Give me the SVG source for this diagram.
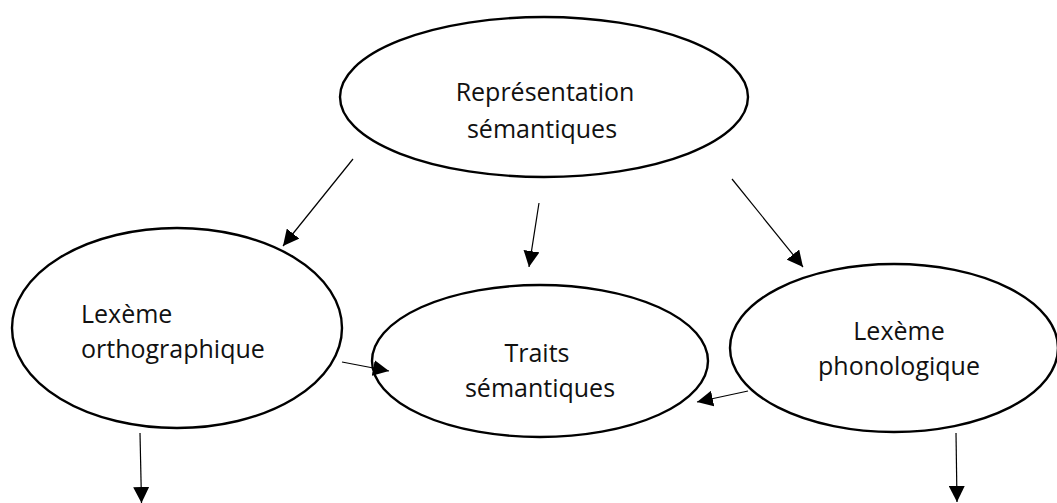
<svg xmlns="http://www.w3.org/2000/svg" width="1057" height="503" viewBox="0 0 1057 503">
<style>
.node ellipse{fill:#fff;stroke:#000;stroke-width:2.4}
.node text{font-family:"Open Sans","Liberation Sans",sans-serif;font-size:25px;fill:#111}
.c{text-anchor:middle}
#connectors line{stroke:#000;stroke-width:1.2}
</style>
<defs>
<marker id="ah" viewBox="0 0 10 10" refX="10" refY="5" markerWidth="16" markerHeight="16" markerUnits="userSpaceOnUse" orient="auto">
<path d="M0,0 L10,5 L0,10 z" fill="#000"/>
</marker>
</defs>
<rect width="1057" height="503" fill="#fff"/>
<g id="n-top" class="node">
<ellipse cx="544" cy="97" rx="204" ry="80"/>
<text class="c" x="545" y="101">Représentation</text>
<text class="c" x="542" y="138">sémantiques</text>
</g>
<g id="n-ortho" class="node">
<ellipse cx="177" cy="328" rx="165" ry="100"/>
<text x="81" y="323">Lexème</text>
<text x="81" y="358">orthographique</text>
</g>
<g id="n-traits" class="node">
<ellipse cx="540" cy="361" rx="168" ry="76"/>
<text class="c" x="537" y="362">Traits</text>
<text class="c" x="540" y="397">sémantiques</text>
</g>
<g id="n-phono" class="node">
<ellipse cx="894" cy="348" rx="164" ry="84"/>
<text class="c" x="899" y="340">Lexème</text>
<text class="c" x="899" y="375">phonologique</text>
</g>
<g id="connectors">
<line x1="353" y1="159" x2="283" y2="246" marker-end="url(#ah)"/>
<line x1="539" y1="203" x2="529" y2="267" marker-end="url(#ah)"/>
<line x1="732" y1="179" x2="803" y2="267" marker-end="url(#ah)"/>
<line x1="342" y1="362" x2="389" y2="371" marker-end="url(#ah)"/>
<line x1="748" y1="391" x2="697" y2="402" marker-end="url(#ah)"/>
<line x1="140" y1="433" x2="141.5" y2="503" marker-end="url(#ah)"/>
<line x1="956" y1="433" x2="957" y2="502" marker-end="url(#ah)"/>
</g>
</svg>
